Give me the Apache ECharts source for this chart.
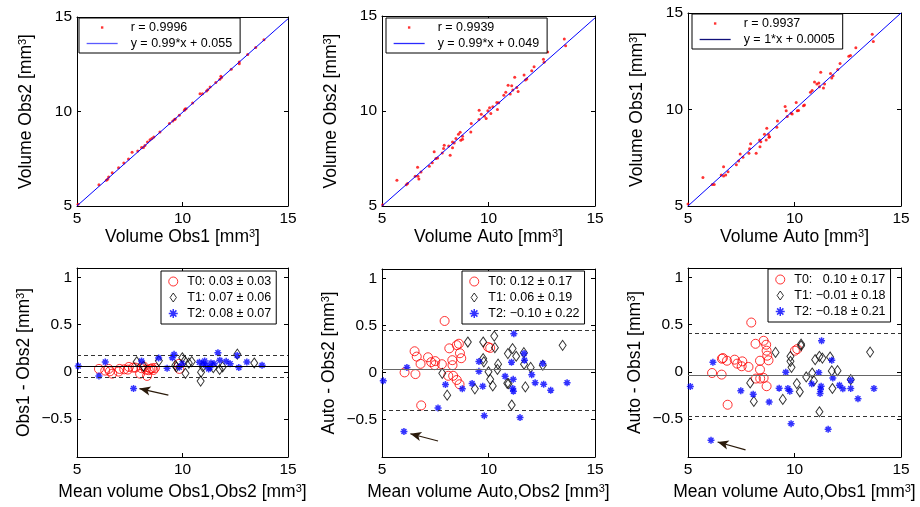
<!DOCTYPE html>
<html>
<head>
<meta charset="UTF-8">
<title>Volume agreement</title>
<style>html,body{margin:0;padding:0;background:#fff}</style>
</head>
<body>
<div id="main" style="width:920px;height:507px"></div>
<script src="https://cdn.jsdelivr.net/npm/echarts@6/dist/echarts.min.js"></script>
<script type="text/javascript">
// ---- scatter plots, values: [x, y] ----
var obs1Obs2 = [[5.05,5.09],[6.04,6.13],[6.39,6.36],[6.45,6.42],[6.50,6.53],[6.67,6.76],[6.97,7.03],[7.22,7.28],[7.44,7.49],[7.61,7.84],[7.88,7.91],[8.06,8.09],[8.15,8.09],[8.22,8.2],[8.34,8.39],[8.46,8.51],[8.55,8.57],[8.64,8.65],[8.93,8.92],[9.38,9.36],[9.54,9.5],[9.62,9.58],[9.66,9.6],[9.85,9.8],[10.09,10.06],[10.12,10.13],[10.17,10.15],[10.48,10.45],[10.83,10.94],[10.95,10.94],[11.14,11.08],[11.2,11.15],[11.31,11.3],[11.58,11.53],[11.77,11.7],[11.82,11.86],[11.85,11.8],[12.31,12.23],[12.69,12.62],[12.69,12.53],[13.09,13.02],[13.47,13.38],[13.86,13.8]];
var autoObs2 = [[5.03,5.06],[5.70,6.35],[6.14,6.12],[6.2,6.18],[6.56,6.56],[6.67,7.04],[6.69,6.56],[6.73,6.42],[6.83,6.79],[7.22,7.09],[7.36,7.27],[7.45,7.85],[7.53,7.5],[7.61,7.53],[7.83,7.79],[7.89,8.02],[7.92,8.2],[8.13,8.16],[8.2,7.67],[8.31,8.06],[8.31,8.37],[8.39,8.32],[8.47,8.55],[8.59,8.78],[8.67,8.88],[8.78,8.67],[8.78,8.51],[8.7,8.46],[9.17,8.9],[9.19,9.34],[9.56,10.04],[9.55,9.55],[9.66,9.83],[9.81,9.73],[9.89,9.6],[9.97,10.01],[10.05,10.17],[10.11,9.87],[10.2,10.22],[10.39,10.45],[10.42,10.08],[10.48,10.43],[10.72,10.83],[10.81,10.99],[10.92,11.36],[11.02,10.89],[11.09,11.33],[11.14,11.1],[11.23,11.77],[11.33,11.24],[11.39,11.03],[11.67,11.89],[11.73,11.63],[11.8,11.68],[12.03,12.12],[12.14,12.33],[12.58,12.72],[12.61,12.57],[12.78,13.1],[13.56,13.79],[13.62,13.44]];
var autoObs1 = [[5.0,5.1],[5.70,6.48],[6.14,6.11],[6.23,6.11],[6.56,6.6],[6.67,7.03],[6.67,6.55],[6.77,6.61],[6.88,6.77],[7.27,7.14],[7.38,7.33],[7.45,7.69],[7.58,7.52],[7.86,7.73],[7.89,7.97],[7.94,8.23],[8.2,7.73],[8.36,8.42],[8.38,8.07],[8.42,8.33],[8.59,8.72],[8.7,9.03],[8.78,8.7],[8.8,8.56],[8.83,8.59],[8.67,8.42],[9.17,9.08],[9.2,9.41],[9.56,10.16],[9.61,9.93],[9.66,9.64],[9.84,9.81],[9.89,9.77],[10.08,10.36],[10.13,9.93],[10.19,9.95],[10.42,10.19],[10.47,10.23],[10.75,10.9],[10.83,10.99],[10.94,11.42],[11.05,11.32],[11.14,11.37],[11.17,11.18],[11.23,11.93],[11.36,11.11],[11.41,11.32],[11.69,11.86],[11.75,11.63],[11.81,11.75],[12.03,12.07],[12.14,12.38],[12.55,12.76],[12.63,12.8],[12.88,13.2],[13.65,13.9],[13.7,13.52]];

// regression lines (end points at x = 5 and x = 15)
var fitObs1Obs2 = [[5, 5.005], [15, 14.905]];
var fitAutoObs2 = [[5, 4.999], [15, 14.899]];
var fitAutoObs1 = [[5, 5.0005], [15, 15.0005]];

// ---- Bland-Altman plots: [mean, difference] ----
var baObs12T0 = [[6.04,0.032],[6.34,0.014],[6.5,0.032],[6.56,0.007],[6.67,-0.018],[6.97,0.004],[7.02,0.032],[7.24,0.028],[7.41,0.025],[7.46,0.053],[7.66,0.046],[7.77,0.046],[7.99,-0.018],[8.06,0.039],[8.17,0.056],[8.26,0.025],[8.32,-0.042],[8.40,0.018],[8.48,0.032],[8.56,0.039],[8.62,0.021],[8.69,0.042],[9.83,0.085],[9.85,0.032]];
var baObs12T1 = [[7.83,0.108],[8.15,0.06],[8.88,0.118],[9.66,0.07],[9.71,0.053],[9.99,0.15],[10.1,0.119],[10.14,-0.015],[10.3,0.093],[10.44,0.11],[10.88,-0.002],[10.86,-0.097],[10.96,0.055],[11.46,0.045],[11.76,0.026],[11.9,0.053],[12.6,0.188],[13.4,0.095]];
var baObs12T2 = [[5.06,0.063],[6.04,-0.042],[6.34,0.105],[7.68,-0.175],[8.06,0.116],[8.87,0.147],[9.27,0.039],[9.52,0.151],[9.6,0.186],[9.85,0.049],[9.98,0.088],[10.8,0.102],[10.98,0.088],[11.05,0.116],[11.11,0.07],[11.24,0.032],[11.3,0.046],[11.35,0.095],[11.5,0.088],[11.68,0.204],[11.77,0.123],[12.07,0.112],[12.26,0.088],[12.59,0.175],[12.67,0.046],[13.05,0.105],[13.77,0.07]];

var baAuto2T0 = [[6.06,0.0],[6.53,0.225],[6.57,-0.018],[6.63,0.168],[6.81,0.091],[6.84,-0.351],[7.16,0.161],[7.31,0.109],[7.5,0.12],[7.47,0.077],[7.81,0.087],[7.94,0.547],[8.11,-0.036],[8.16,0.256],[8.3,0.13],[8.31,0.077],[8.34,-0.036],[8.51,-0.081],[8.51,0.29],[8.61,0.305],[8.64,-0.126],[8.66,0.204],[8.72,0.151],[9.98,0.27],[10.08,0.26]];
var baAuto2T1 = [[7.83,-0.01],[8.06,-0.242],[9.03,0.323],[9.36,-0.175],[9.75,0.323],[9.75,0.147],[9.78,0.112],[10.0,0.007],[10.08,-0.074],[10.2,-0.144],[10.27,0.386],[10.3,0.263],[10.42,0.032],[10.45,0.088],[10.88,-0.116],[10.91,0.2],[10.94,-0.12],[11.09,-0.347],[11.13,0.253],[11.3,0.172],[11.66,0.21],[11.67,0.088],[11.73,-0.154],[11.98,0.053],[12.55,0.077],[13.48,0.288]];
var baAuto2T2 = [[5.06,-0.09],[6.03,-0.628],[6.17,0.053],[7.63,-0.379],[7.98,-0.13],[8.77,-0.175],[9.23,-0.119],[9.55,0.116],[9.55,0.011],[9.73,-0.147],[9.8,-0.46],[10.78,-0.042],[11.08,0.109],[11.19,0.411],[11.16,-0.074],[11.14,-0.172],[11.17,-0.2],[11.48,-0.481],[11.67,0.2],[11.69,0.13],[12.03,-0.025],[12.19,-0.109],[12.55,0.095],[12.59,-0.126],[12.92,-0.189],[13.69,-0.109]];

var baAuto1T0 = [[6.13,-0.011],[6.58,-0.028],[6.59,0.14],[6.64,0.147],[6.83,0.119],[6.86,-0.347],[7.19,0.13],[7.31,0.088],[7.52,0.06],[7.55,0.112],[7.84,0.053],[7.97,0.523],[8.17,0.298],[8.19,-0.07],[8.38,0.119],[8.38,0.025],[8.39,-0.07],[8.55,0.33],[8.55,-0.063],[8.67,0.288],[8.69,0.225],[8.69,-0.151],[8.72,0.172],[8.78,0.123],[10.02,0.225],[10.13,0.242]];
var baAuto1T1 = [[7.92,-0.116],[8.09,-0.312],[9.11,0.207],[9.45,-0.291],[9.81,0.165],[9.81,0.112],[9.86,0.049],[10.11,-0.123],[10.25,-0.21],[10.31,0.295],[10.31,0.277],[10.55,-0.053],[10.83,-0.011],[10.91,-0.095],[10.97,0.13],[11.17,0.165],[11.17,-0.421],[11.31,0.147],[11.67,0.158],[11.75,0.011],[11.78,-0.175],[12.02,0.014],[12.64,-0.081],[13.55,0.21]];
var baAuto1T2 = [[5.11,-0.154],[6.08,-0.723],[6.17,0.102],[7.48,-0.2],[8.06,-0.235],[8.81,-0.319],[9.28,-0.172],[9.59,-0.004],[9.69,-0.175],[9.78,-0.204],[9.84,-0.547],[10.81,-0.126],[11.14,-0.007],[11.27,0.33],[11.25,-0.151],[11.22,-0.186],[11.2,-0.228],[11.75,0.123],[11.8,-0.063],[11.58,-0.607],[12.11,-0.14],[12.27,-0.179],[12.64,-0.088],[12.64,-0.175],[12.98,-0.284],[13.73,-0.175]];

// mean, upper limit, lower limit of agreement
var limObs12 = [0.06, 0.185, -0.055];
var limAuto2 = [0.025, 0.45, -0.40];
var limAuto1 = [-0.03, 0.41, -0.465];

// arrows pointing at the outlier: [tail, head]
var arrowObs12 = [[9.33, -0.246], [7.96, -0.176]];
var arrowAuto2 = [[7.63, -0.73], [6.33, -0.653]];
var arrowAuto1 = [[7.70, -0.825], [6.39, -0.741]];

var volTicks = [5, 10, 15];
var diffTicks = [-0.5, 0, 0.5, 1];

var font = '"Liberation Sans", Arial, Helvetica, sans-serif';
var grids = [
    {left: 77, top: 17, width: 211, height: 189},
    {left: 382, top: 16, width: 213, height: 190},
    {left: 688, top: 13, width: 213, height: 193},
    {left: 77, top: 268, width: 211, height: 189},
    {left: 382, top: 269, width: 213, height: 188},
    {left: 688, top: 268, width: 213, height: 189}
];

function minus(v) { return String(v).replace('-', '\u2212'); }

function axis(gi, pos, min, max, ticks, name, gap) {
    var a = {
        type: 'value', gridIndex: gi, position: pos, min: min, max: max,
        splitLine: {show: false},
        axisLine: {show: true, onZero: false, lineStyle: {color: '#000', width: 1}},
        axisTick: {show: true, inside: true, length: 4, customValues: ticks, lineStyle: {color: '#000'}},
        axisLabel: {show: !!name, customValues: ticks, margin: 5, color: '#000', fontSize: 15.5,
            fontFamily: font, formatter: minus}
    };
    if (name) {
        a.name = name;
        a.nameLocation = 'middle';
        a.nameGap = gap;
        a.nameTextStyle = {color: '#000', fontSize: 17.5, fontFamily: font,
            rich: {s: {fontSize: 11, verticalAlign: 'top', fontFamily: font, color: '#000'}}};
    }
    return a;
}

var xAxes = [], yAxes = [], series = [], legends = [];
var dotIcon = 'path://M0,0M12,12M4.8,4.8h2.4v2.4h-2.4z';
var diamondIcon = 'path://M3.5,0L7,5L3.5,10L0,5Z';
var starPath = 'path://M5,0L5,10M0,5L10,5M1.5,1.5L8.5,8.5M1.5,8.5L8.5,1.5';
var hidden = {color: 'rgba(0,0,0,0)', borderWidth: 0};

function topPanel(gi, pts, fit, rText, fitText, xName, yName, legendPos, legendLine) {
    xAxes.push(axis(gi, 'bottom', 5, 15, volTicks, xName, 22));
    xAxes.push(axis(gi, 'top', 5, 15, volTicks));
    yAxes.push(axis(gi, 'left', 5, 15, volTicks, yName, 42));
    yAxes.push(axis(gi, 'right', 5, 15, volTicks));
    series.push({
        name: rText, type: 'scatter', xAxisIndex: 2 * gi, yAxisIndex: 2 * gi,
        symbol: 'circle', symbolSize: 3, itemStyle: {color: '#ff0000'}, data: pts
    });
    series.push({
        name: fitText, type: 'line', xAxisIndex: 2 * gi, yAxisIndex: 2 * gi,
        symbol: 'none', itemStyle: {color: '#0000ff'},
        lineStyle: {color: '#0000ff', width: 1}, data: fit
    });
    legends.push({
        orient: 'vertical', left: legendPos[0], top: legendPos[1], selectedMode: false,
        backgroundColor: '#fff', borderColor: '#000', borderWidth: 1, padding: [3, 8, 3, 7],
        itemWidth: 31, itemHeight: 12, itemGap: 3,
        itemStyle: {borderWidth: 0},
        textStyle: {color: '#000', fontSize: 12.5, fontFamily: font, padding: [0, 0, 0, 8]},
        data: [
            {name: rText, icon: dotIcon},
            {name: fitText, itemStyle: hidden, lineStyle: {color: legendLine, width: 1.3}}
        ]
    });
}

function baPanel(gi, t0, t1, t2, names, lim, arrow, xName, yName, meanColor, legendPos) {
    xAxes.push(axis(gi, 'bottom', 5, 15, volTicks, xName, 26));
    xAxes.push(axis(gi, 'top', 5, 15, volTicks));
    yAxes.push(axis(gi, 'left', -0.9, 1.1, diffTicks, yName, 44));
    yAxes.push(axis(gi, 'right', -0.9, 1.1, diffTicks));
    var dash = {color: '#333', width: 1, type: [4, 3]};
    series.push({
        name: names[0], type: 'scatter', xAxisIndex: 2 * gi, yAxisIndex: 2 * gi,
        symbol: 'circle', symbolSize: 9,
        itemStyle: {color: 'rgba(0,0,0,0)', borderColor: '#ff0000', borderWidth: 1},
        data: t0,
        markLine: {
            silent: true, symbol: ['none', 'none'], label: {show: false}, animation: false,
            data: [
                {yAxis: lim[0], lineStyle: {color: meanColor, width: 1, type: 'solid'}},
                {yAxis: lim[1], lineStyle: dash},
                {yAxis: lim[2], lineStyle: dash},
                [{coord: arrow[0], symbol: 'none'},
                 {coord: arrow[1], symbol: 'arrow', symbolSize: [7, 11]}]
            ],
            lineStyle: {color: '#2a1a0a', width: 1.2, type: 'solid'}
        }
    });
    series.push({
        name: names[1], type: 'scatter', xAxisIndex: 2 * gi, yAxisIndex: 2 * gi,
        symbol: 'diamond', symbolSize: [7, 10],
        itemStyle: {color: 'rgba(0,0,0,0)', borderColor: '#000', borderWidth: 1},
        data: t1
    });
    series.push({
        name: names[2], type: 'scatter', xAxisIndex: 2 * gi, yAxisIndex: 2 * gi,
        symbol: starPath, symbolSize: 7,
        itemStyle: {color: 'rgba(0,0,0,0)', borderColor: '#0000ff', borderWidth: 1.5},
        data: t2
    });
    legends.push({
        orient: 'vertical', left: legendPos[0], top: legendPos[1], selectedMode: false,
        backgroundColor: '#fff', borderColor: '#000', borderWidth: 1, padding: [4, 5, 4, 7],
        itemWidth: 18, itemHeight: 9, itemGap: 3,
        itemStyle: {borderWidth: 1},
        textStyle: {color: '#000', fontSize: 12.5, fontFamily: font},
        data: [names[0], {name: names[1], icon: diamondIcon}, {name: names[2], itemStyle: {borderWidth: 1.5}}]
    });
}

topPanel(0, obs1Obs2, fitObs1Obs2, 'r = 0.9996', 'y = 0.99*x + 0.055',
    'Volume Obs1 [mm{s|3}]', 'Volume Obs2 [mm{s|3}]', [79, 18], '#5a5aff');
topPanel(1, autoObs2, fitAutoObs2, 'r = 0.9939', 'y = 0.99*x + 0.049',
    'Volume Auto [mm{s|3}]', 'Volume Obs2 [mm{s|3}]', [386, 18], '#2a2aff');
topPanel(2, autoObs1, fitAutoObs1, 'r = 0.9937', 'y = 1*x + 0.0005',
    'Volume Auto [mm{s|3}]', 'Volume Obs1 [mm{s|3}]', [692, 14], '#10107a');

baPanel(3, baObs12T0, baObs12T1, baObs12T2,
    ['T0: 0.03 \u00b1 0.03', 'T1: 0.07 \u00b1 0.06', 'T2: 0.08 \u00b1 0.07'],
    limObs12, arrowObs12, 'Mean volume Obs1,Obs2 [mm{s|3}]', 'Obs1 - Obs2 [mm{s|3}]', '#000', [161, 271]);
baPanel(4, baAuto2T0, baAuto2T1, baAuto2T2,
    ['T0: 0.12 \u00b1 0.17', 'T1: 0.06 \u00b1 0.19', 'T2: \u22120.10 \u00b1 0.22'],
    limAuto2, arrowAuto2, 'Mean volume Auto,Obs2 [mm{s|3}]', 'Auto - Obs2 [mm{s|3}]', '#666', [462, 271]);
baPanel(5, baAuto1T0, baAuto1T1, baAuto1T2,
    ['T0:   0.10 \u00b1 0.17', 'T1: \u22120.01 \u00b1 0.18', 'T2: \u22120.18 \u00b1 0.21'],
    limAuto1, arrowAuto1, 'Mean volume Auto,Obs1 [mm{s|3}]', 'Auto - Obs1 [mm{s|3}]', '#666', [768, 269]);

var option = {
    animation: false,
    backgroundColor: '#fff',
    textStyle: {fontFamily: font},
    grid: grids,
    xAxis: xAxes,
    yAxis: yAxes,
    legend: legends,
    series: series
};

var myChart = echarts.init(document.getElementById('main'));
myChart.setOption(option);
</script>
</body>
</html>
